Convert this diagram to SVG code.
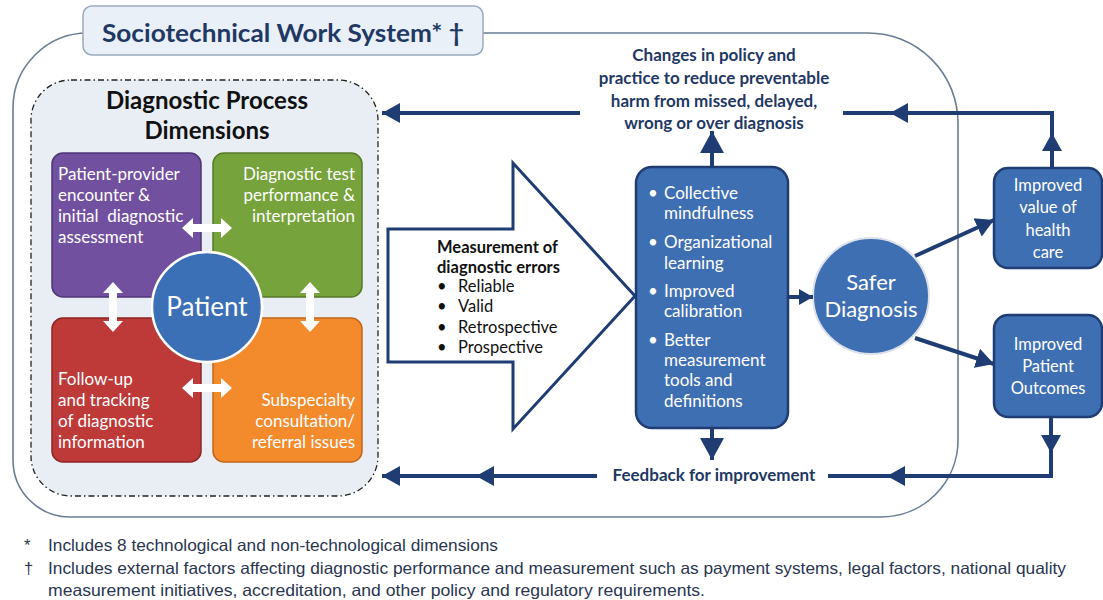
<svg xmlns="http://www.w3.org/2000/svg" xmlns:xlink="http://www.w3.org/1999/xlink" width="1103" height="600" viewBox="0 0 1103 600">
<defs>
<style>
.t{font-family:Lato,"Open Sans","Liberation Sans",sans-serif;}
.w{fill:#fff;}
.q{font-size:17px;fill:#fff;}
.nv{fill:#1f3864;font-weight:bold;}
.ln{fill:none;stroke:#1f3d73;stroke-width:4;}
.bl{fill:#3f6fb3;stroke:#1f3d73;stroke-width:2.5;}
.foot{font-family:"Liberation Sans Narrow","Liberation Sans",sans-serif;font-size:16.5px;fill:#2a3550;}
</style>
<marker id="ah" markerUnits="userSpaceOnUse" markerWidth="20" markerHeight="22" refX="18" refY="11" orient="auto"><path d="M0,1 L18,11 L0,21 z" fill="#1f3d73"/></marker>
<marker id="ahL" markerUnits="userSpaceOnUse" markerWidth="24" markerHeight="26" refX="22" refY="13" orient="auto"><path d="M0,1 L22,13 L0,25 z" fill="#1f3d73"/></marker>
<marker id="ahS" markerUnits="userSpaceOnUse" markerWidth="16" markerHeight="18" refX="14" refY="9" orient="auto"><path d="M0,1 L14,9 L0,17 z" fill="#1f3d73"/></marker>
<path id="dbl" d="M-25,0 L-14,-10 L-14,-4 L14,-4 L14,-10 L25,0 L14,10 L14,4 L-14,4 L-14,10 Z" fill="#fff"/>
</defs>

<g id="sociotechnical-system">
<path d="M88,33 H868 A90,90 0 0 1 958,123 V440 A77,77 0 0 1 881,517 H70 A57,57 0 0 1 13,460 V108 A75,75 0 0 1 88,33 Z" fill="none" stroke="#6a7d95" stroke-width="1.6"/>
<rect x="83" y="6" width="400" height="49" rx="9" fill="#eaf0f7" stroke="#9aaabd" stroke-width="1.5"/>
<text class="t nv" x="283" y="42" font-size="24" text-anchor="middle" textLength="362" lengthAdjust="spacingAndGlyphs">Sociotechnical Work System* †</text>
</g>

<g id="diagnostic-process">
<rect x="31" y="80" width="347" height="416" rx="40" fill="#e9eef5" stroke="#222" stroke-width="1.3" stroke-dasharray="6,3,1.5,3"/>
<text class="t" x="207" y="109" font-size="24" font-weight="bold" fill="#111" text-anchor="middle">Diagnostic Process</text>
<text class="t" x="207" y="139" font-size="24" font-weight="bold" fill="#111" text-anchor="middle">Dimensions</text>
</g>

<g id="q-purple">
<rect x="52" y="153" width="149" height="144" rx="11" fill="#7150a0" stroke="#4e3576" stroke-width="1.5"/>
<text class="t q" x="58" y="180">Patient-provider</text>
<text class="t q" x="58" y="201">encounter &amp;</text>
<text class="t q" x="58" y="222" xml:space="preserve">initial  diagnostic</text>
<text class="t q" x="58" y="243">assessment</text>
</g>
<g id="q-green">
<rect x="213" y="153" width="149" height="144" rx="11" fill="#76a33b" stroke="#557a27" stroke-width="1.5"/>
<text class="t q" x="355" y="180" text-anchor="end">Diagnostic test</text>
<text class="t q" x="355" y="201" text-anchor="end">performance &amp;</text>
<text class="t q" x="355" y="222" text-anchor="end">interpretation</text>
</g>
<g id="q-red">
<rect x="52" y="318" width="149" height="144" rx="11" fill="#bd3a38" stroke="#8b2422" stroke-width="1.5"/>
<text class="t q" x="58" y="385">Follow-up</text>
<text class="t q" x="58" y="406">and tracking</text>
<text class="t q" x="58" y="427">of diagnostic</text>
<text class="t q" x="58" y="448">information</text>
</g>
<g id="q-orange">
<rect x="213" y="318" width="149" height="144" rx="11" fill="#f38b2d" stroke="#c2661a" stroke-width="1.5"/>
<text class="t q" x="355" y="406" text-anchor="end">Subspecialty</text>
<text class="t q" x="355" y="427" text-anchor="end">consultation/</text>
<text class="t q" x="355" y="448" text-anchor="end">referral issues</text>
</g>
<g id="quad-arrows">
<use xlink:href="#dbl" transform="translate(207,228)"/>
<use xlink:href="#dbl" transform="translate(207,388)"/>
<use xlink:href="#dbl" transform="translate(113,307) rotate(90)"/>
<use xlink:href="#dbl" transform="translate(310,307) rotate(90)"/>
</g>
<g id="patient">
<circle cx="207" cy="307" r="55" fill="#3b6fb6" stroke="#fff" stroke-width="2.5"/>
<text class="t w" x="207" y="316" font-size="26" text-anchor="middle">Patient</text>
</g>

<g id="measurement">
<path d="M388,229 H513 V163 L635,296 L513,429 V362 H388 Z" fill="#fff" stroke="#1f3d73" stroke-width="3"/>
<text class="t" x="437" y="253" font-size="16.5" font-weight="bold" fill="#111">Measurement of</text>
<text class="t" x="437" y="273" font-size="16.5" font-weight="bold" fill="#111">diagnostic errors</text>
<g class="t" font-size="16.5" fill="#111">
<text x="437" y="292">•</text><text x="458" y="292">Reliable</text>
<text x="437" y="312">•</text><text x="458" y="312">Valid</text>
<text x="437" y="333">•</text><text x="458" y="333">Retrospective</text>
<text x="437" y="353">•</text><text x="458" y="353">Prospective</text>
</g>
</g>

<g id="learning">
<rect class="bl" x="636" y="167" width="152" height="261" rx="16"/>
<g class="t w" font-size="17">
<text x="648" y="199">•</text><text x="664" y="199">Collective</text>
<text x="664" y="219">mindfulness</text>
<text x="648" y="248">•</text><text x="664" y="248">Organizational</text>
<text x="664" y="269">learning</text>
<text x="648" y="297">•</text><text x="664" y="297">Improved</text>
<text x="664" y="317">calibration</text>
<text x="648" y="346">•</text><text x="664" y="346">Better</text>
<text x="664" y="366">measurement</text>
<text x="664" y="386">tools and</text>
<text x="664" y="407">definitions</text>
</g>
</g>

<g id="changes">
<g class="t nv" font-size="17" text-anchor="middle">
<text x="714" y="61">Changes in policy and</text>
<text x="714" y="84">practice to reduce preventable</text>
<text x="714" y="107">harm from missed, delayed,</text>
<text x="714" y="129">wrong or over diagnosis</text>
</g>
</g>

<g id="feedback">
<text class="t nv" x="714" y="481" font-size="17" text-anchor="middle">Feedback for improvement</text>
</g>

<g id="safer">
<circle cx="871" cy="296" r="58" fill="#3f6fb3" stroke="#dde2ea" stroke-width="2"/>
<text class="t w" x="871" y="290" font-size="22" text-anchor="middle">Safer</text>
<text class="t w" x="871" y="317" font-size="22" text-anchor="middle">Diagnosis</text>
</g>

<g id="value">
<rect class="bl" x="994" y="168" width="108" height="100" rx="14"/>
<g class="t w" font-size="16.5" text-anchor="middle">
<text x="1048" y="191">Improved</text>
<text x="1048" y="213">value of</text>
<text x="1048" y="236">health</text>
<text x="1048" y="258">care</text>
</g>
</g>

<g id="outcomes">
<rect class="bl" x="994" y="315" width="108" height="102" rx="14"/>
<g class="t w" font-size="16.5" text-anchor="middle">
<text x="1048" y="350">Improved</text>
<text x="1048" y="372">Patient</text>
<text x="1048" y="394">Outcomes</text>
</g>
</g>

<g id="connectors">
<path class="ln" d="M1052,168 V113 H843"/>
<path class="ln" d="M1052,168 V133" marker-end="url(#ah)"/>
<path class="ln" d="M1052,113 H890" marker-end="url(#ah)"/>
<path class="ln" d="M580,113 H382" marker-end="url(#ah)"/>
<path class="ln" d="M712,167 V131" marker-end="url(#ahL)"/>
<path class="ln" d="M712,428 V460" marker-end="url(#ahL)"/>
<path class="ln" d="M1051,417 V476 H828"/>
<path class="ln" d="M1051,417 V453" marker-end="url(#ah)"/>
<path class="ln" d="M1051,476 H887" marker-end="url(#ah)"/>
<path class="ln" d="M597,476 H382" marker-end="url(#ah)"/>
<path class="ln" d="M597,476 H476" marker-end="url(#ah)"/>
<path class="ln" d="M788,297 H813" marker-end="url(#ahS)"/>
<path class="ln" d="M915,256 L994,220" marker-end="url(#ah)"/>
<path class="ln" d="M915,338 L994,364" marker-end="url(#ah)"/>
</g>

<g id="footnotes">
<text class="foot" x="24" y="551">*</text>
<text class="foot" x="48" y="551" textLength="450" lengthAdjust="spacingAndGlyphs">Includes 8 technological and non-technological dimensions</text>
<text class="foot" x="24" y="574">†</text>
<text class="foot" x="48" y="574" textLength="1018" lengthAdjust="spacingAndGlyphs">Includes external factors affecting diagnostic performance and measurement such as payment systems, legal factors, national quality</text>
<text class="foot" x="48" y="596" textLength="657" lengthAdjust="spacingAndGlyphs">measurement initiatives, accreditation, and other policy and regulatory requirements.</text>
</g>
</svg>
